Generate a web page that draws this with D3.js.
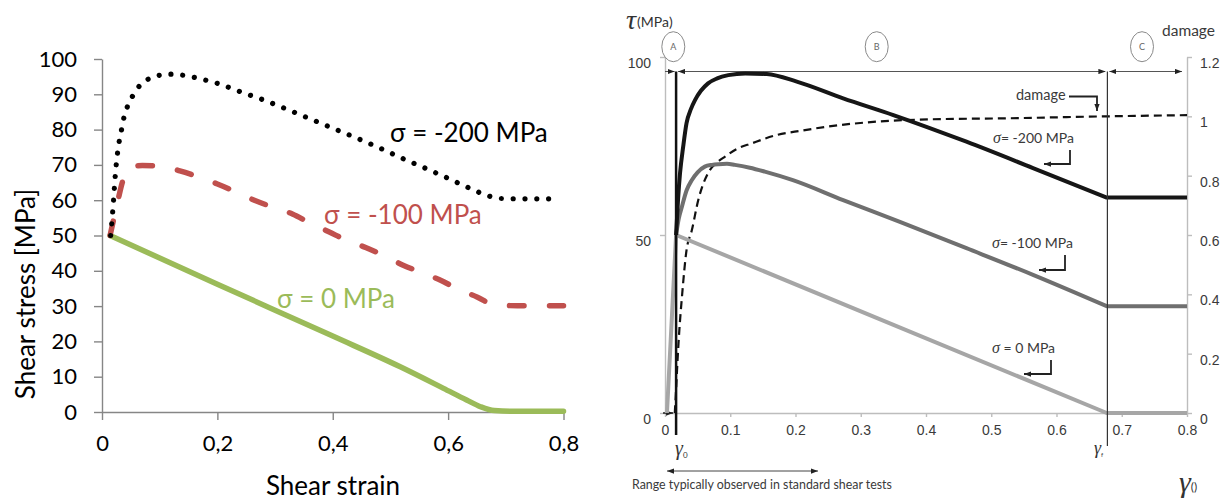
<!DOCTYPE html>
<html><head><meta charset="utf-8">
<script src="https://cdn.jsdelivr.net/npm/d3@7"></script>
<style>
body{margin:0;background:#fff;}
svg{display:block;font-family:Lato,"Open Sans",sans-serif;}
</style>
</head><body>
<svg id="chart" width="1228" height="502"></svg>
<script>
// ---------- LEFT PANEL DATA ----------
const leftStrainTicks = [0, 0.2, 0.4, 0.6, 0.8];
const leftStressTicks = [0, 10, 20, 30, 40, 50, 60, 70, 80, 90, 100];

const leftStrain200 = [0.015, 0.017, 0.02, 0.023, 0.027, 0.03, 0.034, 0.038, 0.044, 0.053, 0.065, 0.08, 0.1, 0.12, 0.14, 0.16, 0.18, 0.2, 0.24, 0.28, 0.32, 0.36, 0.4, 0.44, 0.48, 0.52, 0.56, 0.6, 0.64, 0.67, 0.69, 0.72, 0.79];
const leftStress200 = [50, 53.6, 60, 67, 73.5, 76.8, 80.1, 83.4, 86.5, 89.5, 92.4, 94.3, 95.4, 95.7, 95.4, 94.8, 94, 93.1, 90.7, 88.4, 85.8, 83.1, 80.4, 77.7, 74.9, 71.9, 69.1, 66.2, 63.2, 61.2, 60.5, 60.4, 60.4];

const leftStrain100 = [0.014, 0.025, 0.037, 0.05, 0.07, 0.1, 0.135, 0.167, 0.2, 0.264, 0.296, 0.33, 0.36, 0.394, 0.423, 0.457, 0.486, 0.522, 0.555, 0.586, 0.617, 0.65, 0.68, 0.72, 0.8];
const leftStress100 = [50, 58, 66, 69.5, 69.8, 69.7, 68.3, 66.6, 64.6, 60, 58, 56.1, 53.6, 51, 48.7, 46.6, 44.5, 41.6, 39.4, 37.4, 34.8, 32.6, 30.4, 30.1, 30.1];

const leftStrain0 = [0.014, 0.2, 0.4, 0.517, 0.592, 0.632, 0.656, 0.68, 0.72, 0.8];
const leftStress0 = [50, 36.2, 21.5, 12.8, 6.7, 3.4, 1.5, 0.4, 0.2, 0.2];

const leftLabels = ["σ = -200 MPa", "σ = -100 MPa", "σ = 0 MPa"];

// ---------- RIGHT PANEL DATA ----------
const rightStrainTicks = [0, 0.1, 0.2, 0.3, 0.4, 0.5, 0.6, 0.7, 0.8];
const rightTauTicks = [0, 50, 100];
const rightDamageTicks = [0, 0.2, 0.4, 0.6, 0.8, 1, 1.2];

const rStrain0 = [0.003, 0.017, 0.677, 0.8];
const rTau0 = [0, 50, 0, 0];

const rStrain100 = [0.017, 0.021, 0.026, 0.033, 0.041, 0.05, 0.061, 0.072, 0.082, 0.095, 0.107, 0.13, 0.153, 0.196, 0.273, 0.36, 0.462, 0.564, 0.677, 0.8];
const rTau100 = [50, 54.5, 58, 62.5, 65.4, 67.6, 69.2, 69.7, 69.9, 70, 69.7, 68.9, 67.8, 65.4, 59.8, 53.7, 46.3, 38.8, 30, 30];

const rStrain200 = [0.017, 0.02, 0.023, 0.028, 0.033, 0.04, 0.046, 0.055, 0.066, 0.08, 0.097, 0.123, 0.156, 0.202, 0.273, 0.35, 0.462, 0.564, 0.677, 0.8];
const rTau200 = [50, 60, 67.3, 75, 81.4, 85.5, 87.9, 90.5, 92.6, 94, 94.9, 95.4, 95.2, 93.1, 88.4, 83.7, 76.2, 68.8, 60.5, 60.5];

const rStrainDamage = [0.015, 0.017, 0.019, 0.022, 0.026, 0.033, 0.041, 0.051, 0.066, 0.08, 0.092, 0.11, 0.133, 0.171, 0.21, 0.248, 0.324, 0.406, 0.513, 0.677, 0.8];
const rDamage = [0, 0.08, 0.169, 0.28, 0.392, 0.549, 0.615, 0.718, 0.809, 0.845, 0.864, 0.89, 0.909, 0.937, 0.952, 0.965, 0.982, 0.99, 0.993, 1.0, 1.004];

const gamma0 = 0.017, gammaF = 0.678;

// ---------- DRAW ----------
const svg = d3.select("#chart");
const zip = (xs, ys) => xs.map((x, i) => [x, ys[i]]);

// Left scales
const xL = d3.scaleLinear().domain([0, 0.8]).range([102, 563.5]);
const yL = d3.scaleLinear().domain([0, 100]).range([412, 59]);
const axisGray = "#868686";

const gL = svg.append("g");
const yAxL = gL.append("g").attr("transform", `translate(${xL(0)},0)`)
  .call(d3.axisLeft(yL).tickValues(leftStressTicks).tickSize(8).tickSizeOuter(0).tickPadding(17).tickFormat(d3.format("d")));
const xAxL = gL.append("g").attr("transform", `translate(0,${yL(0)})`)
  .call(d3.axisBottom(xL).tickValues(leftStrainTicks).tickSize(8).tickSizeOuter(0).tickPadding(15)
    .tickFormat(d => d === 0 ? "0" : d3.format(".1f")(d).replace(".", ",")));
[yAxL, xAxL].forEach(a => {
  a.selectAll("path, line").attr("stroke", axisGray).attr("stroke-width", 1.4);
  a.selectAll("text").attr("font-size", 22).attr("fill", "#000").attr("font-family", "Lato, sans-serif");
});

const lineL = d3.line().x(d => xL(d[0])).y(d => yL(d[1])).curve(d3.curveMonotoneX);
gL.append("path").datum(zip(leftStrain0, leftStress0)).attr("d", lineL)
  .attr("fill", "none").attr("stroke", "#9BBB59").attr("stroke-width", 5.5).attr("stroke-linecap", "round");
gL.append("path").datum(zip(leftStrain100, leftStress100)).attr("d", lineL)
  .attr("fill", "none").attr("stroke", "#C0504D").attr("stroke-width", 5.5)
  .attr("stroke-dasharray", "14.5 25.5").attr("stroke-linecap", "round");
gL.append("path").datum(zip(leftStrain200, leftStress200)).attr("d", lineL)
  .attr("fill", "none").attr("stroke", "#000").attr("stroke-width", 5.2)
  .attr("stroke-dasharray", "0.01 11.8").attr("stroke-linecap", "round");

gL.append("text").attr("x", 390).attr("y", 142).attr("font-size", 26).attr("fill", "#000").text(leftLabels[0]);
gL.append("text").attr("x", 324).attr("y", 224).attr("font-size", 26).attr("fill", "#C0504D").text(leftLabels[1]);
gL.append("text").attr("x", 277).attr("y", 308).attr("font-size", 26).attr("fill", "#9BBB59").text(leftLabels[2]);

gL.append("text").attr("transform", "translate(35,294) rotate(-90)").attr("text-anchor", "middle")
  .attr("font-size", 26).attr("fill", "#000").text("Shear stress [MPa]");
gL.append("text").attr("x", 333).attr("y", 495).attr("text-anchor", "middle")
  .attr("font-size", 26).attr("fill", "#000").text("Shear strain");

// Right scales
const xR = d3.scaleLinear().domain([0, 0.8]).range([665, 1187]);
const yT = d3.scaleLinear().domain([0, 100]).range([413, 57]);
const yD = d3.scaleLinear().domain([0, 1.2]).range([413, 57]);
const txt = "#3a3a3a";
const lightAxis = "#bdbdbd";

const defs = svg.append("defs");
defs.append("marker").attr("id", "ah").attr("viewBox", "0 0 8 6").attr("refX", 8).attr("refY", 3)
  .attr("markerWidth", 7).attr("markerHeight", 5.5).attr("markerUnits", "userSpaceOnUse")
  .attr("orient", "auto-start-reverse")
  .append("path").attr("d", "M0,0 L8,3 L0,6 Z").attr("fill", "#222");

const gR = svg.append("g");
const xAxR = gR.append("g").attr("transform", `translate(0,${yT(0)})`)
  .call(d3.axisBottom(xR).tickValues(rightStrainTicks).tickSize(4).tickSizeOuter(0).tickPadding(8)
    .tickFormat(d => d === 0 ? "0" : d3.format(".1f")(d)));
const yAxR = gR.append("g").attr("transform", `translate(${xR(0)},0)`)
  .call(d3.axisLeft(yT).tickValues(rightTauTicks).tickSize(5).tickSizeOuter(0).tickPadding(9));
const dAxR = gR.append("g").attr("transform", `translate(${xR(0.8)},0)`)
  .call(d3.axisRight(yD).tickValues(rightDamageTicks).tickSize(5).tickSizeOuter(0).tickPadding(8)
    .tickFormat(d => String(+d.toFixed(1))));
[xAxR, yAxR, dAxR].forEach(a => {
  a.selectAll("path, line").attr("stroke", lightAxis).attr("stroke-width", 1.4);
  a.selectAll("text").attr("font-size", 14).attr("fill", txt);
});
yAxR.selectAll("text").attr("dy", "0.75em");
dAxR.selectAll("text").attr("dy", "0.75em");

// region markers
const topY = 71.5;
gR.append("line").attr("x1", xR(0)).attr("x2", xR(gamma0) - 1.5).attr("y1", topY).attr("y2", topY)
  .attr("stroke", "#555").attr("stroke-width", 1).attr("marker-end", "url(#ah)");
gR.append("line").attr("x1", xR(gamma0) + 2).attr("x2", xR(gammaF) - 2).attr("y1", topY).attr("y2", topY)
  .attr("stroke", "#555").attr("stroke-width", 1).attr("marker-start", "url(#ah)").attr("marker-end", "url(#ah)");
gR.append("line").attr("x1", xR(gammaF) + 2).attr("x2", xR(0.8) - 5).attr("y1", topY).attr("y2", topY)
  .attr("stroke", "#555").attr("stroke-width", 1).attr("marker-start", "url(#ah)").attr("marker-end", "url(#ah)");
gR.append("line").attr("x1", xR(0) - 2).attr("x2", xR(gamma0) - 3).attr("y1", 413).attr("y2", 413)
  .attr("stroke", "#222").attr("stroke-width", 1.5).attr("marker-end", "url(#ah)");

const regions = [["A", 673.3], ["B", 876.7], ["C", 1142]];
regions.forEach(([t, cx]) => {
  gR.append("ellipse").attr("cx", cx).attr("cy", 46.7).attr("rx", 11.5).attr("ry", 15)
    .attr("fill", "none").attr("stroke", "#8a8a8a").attr("stroke-width", 1);
  gR.append("text").attr("x", cx).attr("y", 50).attr("text-anchor", "middle")
    .attr("font-size", 9).attr("fill", "#666").text(t);
});

// curves: smooth part up to gamma_f, straight plateau after it
const lineR = d3.line().x(d => xR(d[0])).y(d => yT(d[1])).curve(d3.curveMonotoneX);
const lineRlin = d3.line().x(d => xR(d[0])).y(d => yT(d[1]));
const lineD = d3.line().x(d => xR(d[0])).y(d => yD(d[1])).curve(d3.curveMonotoneX);
gR.append("path").datum(zip(rStrainDamage, rDamage)).attr("d", lineD)
  .attr("fill", "none").attr("stroke", "#111").attr("stroke-width", 2.2).attr("stroke-dasharray", "8 5");

function drawTau(xs, ys, color, smooth) {
  const pts = zip(xs, ys);
  const k = pts.length - 1;   // last point is the end of the plateau
  const gen = smooth ? lineR : lineRlin;
  const d = gen(pts.slice(0, k)) + lineRlin(pts.slice(k - 1)).replace(/^M/, "L");
  gR.append("path").attr("d", d).attr("fill", "none").attr("stroke", color)
    .attr("stroke-width", 4).attr("stroke-linejoin", "round");
}
drawTau(rStrain0, rTau0, "#a6a6a6", false);
drawTau(rStrain100, rTau100, "#6f6f6f", true);
drawTau(rStrain200, rTau200, "#161616", true);

// gamma lines
gR.append("line").attr("x1", xR(gamma0)).attr("x2", xR(gamma0)).attr("y1", topY).attr("y2", 435)
  .attr("stroke", "#111").attr("stroke-width", 2.5);
gR.append("line").attr("x1", xR(gammaF)).attr("x2", xR(gammaF)).attr("y1", topY).attr("y2", 446)
  .attr("stroke", "#333").attr("stroke-width", 1.2);

// annotations
function sigmaLabel(x, y, rest) {
  const t = gR.append("text").attr("x", x).attr("y", y).attr("font-size", 14).attr("fill", txt);
  t.append("tspan").attr("font-family", "Liberation Serif, serif").attr("font-style", "italic").attr("font-size", 16).text("σ");
  t.append("tspan").text(rest);
}
function bentArrow(pts) {
  gR.append("path").attr("d", d3.line()(pts)).attr("fill", "none").attr("stroke", "#222")
    .attr("stroke-width", 1.8).attr("marker-end", "url(#ah)");
}
gR.append("text").attr("x", 1016).attr("y", 100).attr("font-size", 14.5).attr("fill", txt).text("damage");
bentArrow([[1069, 96.5], [1097, 96.5], [1097, 111]]);
sigmaLabel(993, 143, "= -200 MPa");
bentArrow([[1070, 150], [1070, 164], [1044, 164]]);
sigmaLabel(992, 248, "= -100 MPa");
bentArrow([[1065, 255], [1065, 270], [1039, 270]]);
sigmaLabel(992, 353, " = 0 MPa");
bentArrow([[1051, 360], [1051, 374], [1024, 374]]);

// axis titles
const tau = gR.append("text").attr("x", 626).attr("y", 29).attr("fill", "#333");
tau.append("tspan").attr("font-family", "Liberation Serif, serif").attr("font-style", "italic").attr("font-size", 28).text("τ");
tau.append("tspan").attr("font-size", 14).attr("dx", 1).attr("dy", -2).text("(MPa)");
gR.append("text").attr("x", 1162).attr("y", 36).attr("font-size", 15.5).attr("fill", txt).text("damage");

const g0 = gR.append("text").attr("x", 675).attr("y", 455).attr("fill", "#333");
g0.append("tspan").attr("font-family", "Liberation Serif, serif").attr("font-style", "italic").attr("font-size", 20).text("γ");
g0.append("tspan").attr("font-size", 8).attr("dy", 3).text("0");
const gf = gR.append("text").attr("x", 1094).attr("y", 454).attr("fill", "#333");
gf.append("tspan").attr("font-family", "Liberation Serif, serif").attr("font-style", "italic").attr("font-size", 18).text("γ");
gf.append("tspan").attr("font-size", 6).attr("dy", 3).text("f");
const gx = gR.append("text").attr("x", 1179).attr("y", 492).attr("fill", "#333");
gx.append("tspan").attr("font-family", "Liberation Serif, serif").attr("font-style", "italic").attr("font-size", 30).text("γ");
gx.append("tspan").attr("font-size", 12).attr("dy", -1).text("()");

gR.append("line").attr("x1", 667).attr("x2", 818).attr("y1", 471).attr("y2", 471)
  .attr("stroke", "#444").attr("stroke-width", 1).attr("marker-start", "url(#ah)").attr("marker-end", "url(#ah)");
gR.append("text").attr("x", 632).attr("y", 489).attr("font-size", 12.4).attr("fill", txt)
  .text("Range typically observed in standard shear tests");
</script>
</body></html>
